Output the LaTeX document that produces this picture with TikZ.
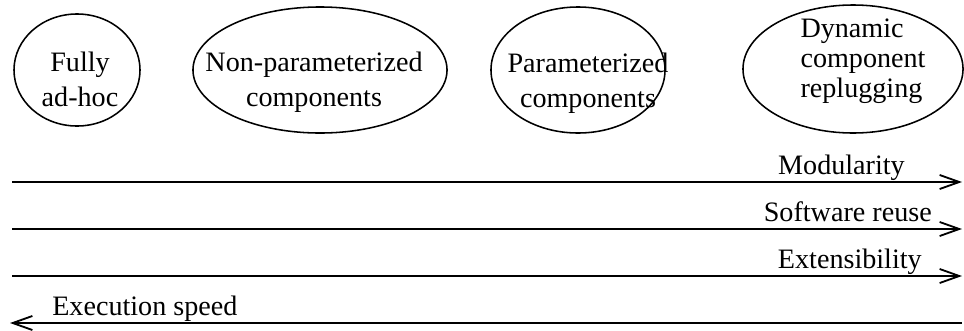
\documentclass[tikz,border=0pt]{standalone}
\usepackage{fontspec}
\setmainfont{Liberation Serif}
\usetikzlibrary{shapes.geometric, arrows.meta}

\tikzset{
  stage/.style={draw, ellipse, line width=1.1pt, inner sep=0pt},
  stagetext/.style={align=center, inner sep=0pt, font=\fontsize{20}{25}\selectfont},
  trend/.style={line width=1.6pt, -{Straight Barb[length=14pt,width=10pt,line width=1.3pt]}},
  trendlabel/.style={inner sep=0pt, font=\fontsize{20}{24}\selectfont},
}

\begin{document}
\begin{tikzpicture}[x=0.025cm, y=-0.025cm]
\useasboundingbox (0,0) rectangle (964,330);

% the four approaches
\node [stage, minimum width=3.15cm, minimum height=2.8cm]  (adhoc)    at (77,70)  {};
\node [stage, minimum width=6.35cm, minimum height=3.15cm] (nonparam) at (320,70) {};
\node [stage, minimum width=4.35cm, minimum height=3.15cm] (param)    at (578,70) {};
\node [stage, minimum width=5.5cm,  minimum height=3.2cm]  (replug)   at (853,69) {};

\node [stagetext] (adhoc-t)    at (80,79)  {Fully\\ad-hoc};
\node [stagetext] (nonparam-t) at (314,82) {Non-parameterized\\components};
\node [stagetext] (param-t)    at (588,83) {Parameterized\\components};
\node [stagetext, align=left, font=\fontsize{20}{21.5}\selectfont]
      (replug-t)   at (863,61) {Dynamic\\component\\replugging};

% trends along the scale
\coordinate (mod-from) at (12,182);   \coordinate (mod-to) at (962,182);
\coordinate (reuse-from) at (12,229); \coordinate (reuse-to) at (962,229);
\coordinate (ext-from) at (12,276);   \coordinate (ext-to) at (962,276);
\coordinate (speed-from) at (962,323); \coordinate (speed-to) at (10,323);

\draw [trend] (mod-from) -- (mod-to);
\draw [trend] (reuse-from) -- (reuse-to);
\draw [trend] (ext-from) -- (ext-to);
\draw [trend] (speed-from) -- (speed-to);

\node [trendlabel, anchor=base east] (mod-l)   at (905,174) {Modularity};
\node [trendlabel, anchor=base east] (reuse-l) at (932,221) {Software reuse};
\node [trendlabel, anchor=base east] (ext-l)   at (922,268) {Extensibility};
\node [trendlabel, anchor=base west] (speed-l) at (52,315)  {Execution speed};

\end{tikzpicture}
\end{document}
